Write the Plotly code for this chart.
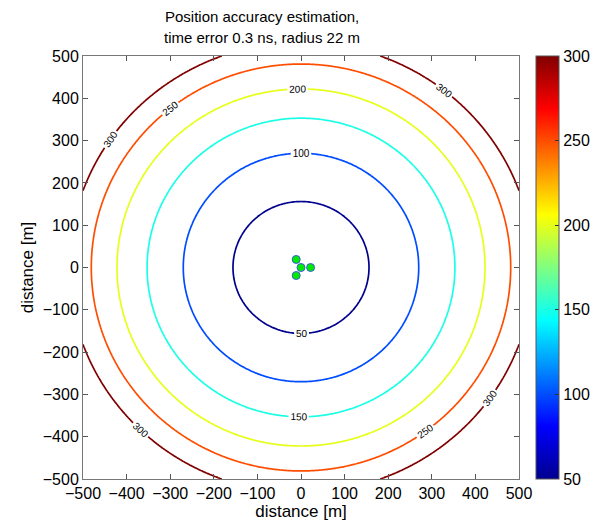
import numpy as np
import plotly.graph_objects as go

# ---- data ----
levels = [50, 100, 150, 200, 250, 300]          # contour levels
level_radii = [156, 270, 353, 422, 481, 532]     # radius [m] of each contour
station_x = [0, 22, -11, -11]                    # station positions [m]
station_y = [0, 0, 19, -19]
tick_vals = [-500, -400, -300, -200, -100, 0, 100, 200, 300, 400, 500]
cbar_ticks = [50, 100, 150, 200, 250, 300]
title_lines = ["Position accuracy estimation,", "time error 0.3 ns, radius 22 m"]

# field built from the read level radii (piecewise linear in r^2, linear extension at ends)
grid = np.linspace(-500, 500, 301)
X, Y = np.meshgrid(grid, grid)
R2 = X**2 + Y**2
rr2 = np.array(level_radii, float) ** 2
lv = np.array(levels, float)
Z = np.interp(R2, rr2, lv)
lo = R2 < rr2[0]
Z[lo] = lv[0] + (R2[lo] - rr2[0]) * (lv[1] - lv[0]) / (rr2[1] - rr2[0])
hi = R2 > rr2[-1]
Z[hi] = lv[-1] + (R2[hi] - rr2[-1]) * (lv[-1] - lv[-2]) / (rr2[-1] - rr2[-2])

jet = [
    [0.0, "rgb(0,0,143)"],
    [0.125, "rgb(0,0,255)"],
    [0.375, "rgb(0,255,255)"],
    [0.625, "rgb(255,255,0)"],
    [0.875, "rgb(255,0,0)"],
    [1.0, "rgb(128,0,0)"],
]

FONT = "Liberation Sans, Arial, sans-serif"

fig = go.Figure()
fig.add_trace(go.Contour(
    x=grid, y=grid, z=Z,
    colorscale=jet, zmin=50, zmax=300,
    contours=dict(start=50, end=300, size=50, coloring="lines",
                  showlabels=True,
                  labelfont=dict(size=10, color="black", family=FONT)),
    line=dict(width=1.7),
    showscale=False, hoverinfo="skip",
))
fig.add_trace(go.Scatter(
    x=station_x, y=station_y, mode="markers",
    marker=dict(size=8, color="rgb(0,235,0)", line=dict(color="rgb(60,90,220)", width=1)),
    showlegend=False, hoverinfo="skip",
))
fig.add_trace(go.Scatter(
    x=[None], y=[None], mode="markers",
    marker=dict(color=[50], cmin=50, cmax=300, colorscale=jet, showscale=True,
                colorbar=dict(x=(536 - 83) / 436, xanchor="left", xref="paper",
                              y=0.5, yanchor="middle", len=1, lenmode="fraction",
                              thickness=23, xpad=0, ypad=0,
                              outlinewidth=1, outlinecolor="#555",
                              tickvals=cbar_ticks, ticks="inside", ticklen=4,
                              tickcolor="#333",
                              tickfont=dict(size=16, color="black", family=FONT))),
    showlegend=False, hoverinfo="skip",
))

axis_common = dict(
    range=[-500, 500], tickvals=tick_vals, ticks="inside", ticklen=5,
    tickcolor="#555", showline=True, linecolor="#777", linewidth=1, mirror="ticks",
    showgrid=False, zeroline=False, automargin=False,
    tickfont=dict(size=16, color="black", family=FONT),
)
fig.update_xaxes(**axis_common, title=dict(text="distance [m]", font=dict(size=17, color="black"), standoff=2))
fig.update_yaxes(**axis_common, title=dict(text="distance [m]", font=dict(size=17, color="black"), standoff=4))

title_y_px = [16, 37]
for txt, ypx in zip(title_lines, title_y_px):
    fig.add_annotation(text=txt, xref="paper", yref="paper",
                       x=(262 - 83) / 436, y=1 + (56 - ypx) / 423,
                       xanchor="center", yanchor="middle", showarrow=False,
                       font=dict(size=15, color="black", family=FONT))

fig.update_layout(
    width=595, height=521,
    margin=dict(l=83, r=76, t=56, b=42, autoexpand=False),
    paper_bgcolor="white", plot_bgcolor="white",
    font=dict(family=FONT, color="black"),
)

fig.write_html(
    "out.html",
    config={"displayModeBar": False},
    post_script="document.body.style.margin='0px';document.body.style.overflow='hidden';",
)
